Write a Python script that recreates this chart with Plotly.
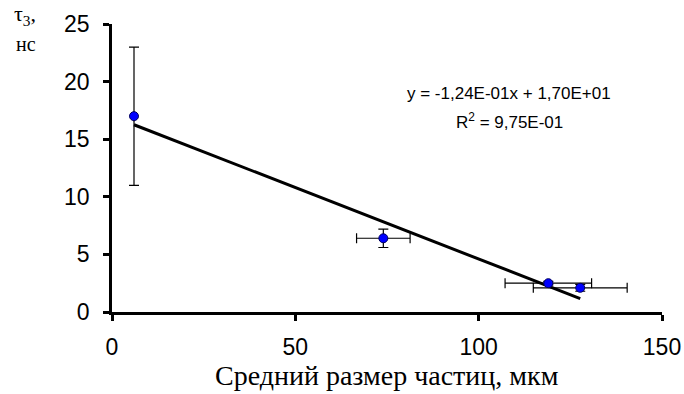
import plotly.graph_objects as go

# Data
size_um = [6.0, 74.0, 119.0, 127.7]
size_err = [0.0, 7.3, 11.8, 12.8]
tau3_ns = [17.0, 6.4, 2.5, 2.1]
tau3_err = [6.0, 0.8, 0.15, 0.3]
slope = -0.124
intercept = 17.0
r2 = 0.975
x_ticks = [0, 50, 100, 150]
y_ticks = [0, 5, 10, 15, 20, 25]

fit_x = [min(size_um), max(size_um)]
fit_y = [slope * v + intercept for v in fit_x]

fig = go.Figure()
fig.add_trace(go.Scatter(
    x=fit_x, y=fit_y, mode="lines",
    line=dict(color="black", width=3), showlegend=False, hoverinfo="skip"))
fig.add_trace(go.Scatter(
    x=size_um, y=tau3_ns, mode="markers",
    marker=dict(color="#0000ff", size=9, line=dict(color="#000060", width=1)),
    error_x=dict(type="data", array=size_err, color="black", thickness=1.2, width=5),
    error_y=dict(type="data", array=tau3_err, color="black", thickness=1.2, width=5),
    showlegend=False))

axis_font = dict(family="Liberation Sans, Arial", size=23, color="black")
serif = "Liberation Serif, Times New Roman"
fig.update_xaxes(range=[0, 150], tickvals=x_ticks, showline=True, linewidth=2.5,
                 linecolor="black", ticks="outside", ticklen=6, tickwidth=2.5,
                 tickcolor="black", showgrid=False, zeroline=False, tickfont=axis_font,
                 automargin=False, ticklabelstandoff=7)
fig.update_yaxes(range=[0, 25], tickvals=y_ticks, showline=True, linewidth=2.5,
                 linecolor="black", ticks="outside", ticklen=6, tickwidth=2.5,
                 tickcolor="black", showgrid=False, zeroline=False, tickfont=axis_font,
                 automargin=False, ticklabelstandoff=9)

fig.add_annotation(xref="paper", yref="paper", x=0.5, y=-0.222, xanchor="center", yanchor="middle",
                   text="Средний размер частиц, мкм", showarrow=False,
                   font=dict(family=serif, size=28, color="black"))
fig.add_annotation(xref="paper", yref="paper", x=-0.182, y=1.03, xanchor="left", yanchor="middle",
                   text="τ<sub>3</sub>,", showarrow=False,
                   font=dict(family=serif, size=22, color="black"))
fig.add_annotation(xref="paper", yref="paper", x=-0.178, y=0.93, xanchor="left", yanchor="middle",
                   text="нс", showarrow=False,
                   font=dict(family=serif, size=20, color="black"))
fig.add_annotation(xref="paper", yref="paper", x=0.722, y=0.76, xanchor="center", yanchor="middle",
                   text="y = -1,24E-01x + 1,70E+01", showarrow=False,
                   font=dict(family="Liberation Sans, Arial", size=17, color="black"))
fig.add_annotation(xref="paper", yref="paper", x=0.722, y=0.663, xanchor="center", yanchor="middle",
                   text="R<sup>2</sup> = 9,75E-01", showarrow=False,
                   font=dict(family="Liberation Sans, Arial", size=17, color="black"))

fig.update_layout(width=684, height=394, margin=dict(l=112, r=22, t=24, b=82),
                  plot_bgcolor="white", paper_bgcolor="white")
fig.write_html("out.html")
